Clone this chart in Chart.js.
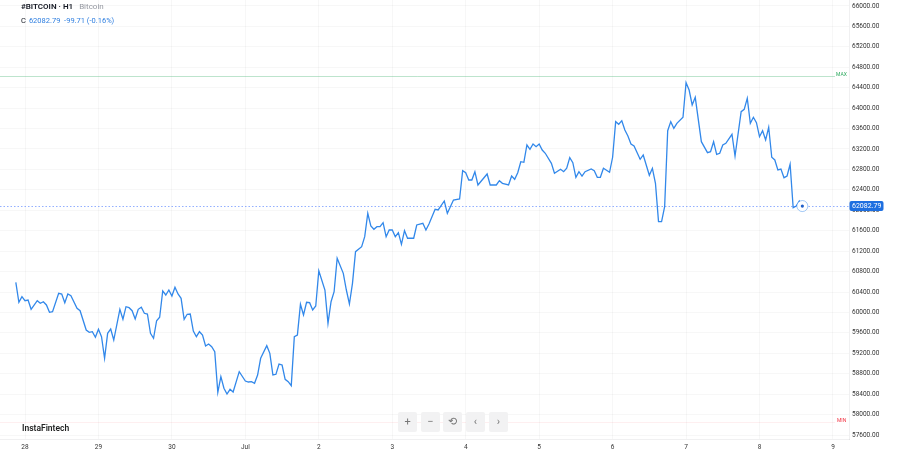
<!DOCTYPE html>
<html><head><meta charset="utf-8">
<script src="https://cdn.jsdelivr.net/npm/chart.js@4.4.1/dist/chart.umd.min.js"></script>
<style>
html,body{margin:0;padding:0;background:#fff;}
#wrap{position:relative;width:900px;height:450px;font-family:Roboto,'Noto Sans',sans-serif;overflow:hidden;}
canvas{position:absolute;left:0;top:0;}
.h1{position:absolute;left:21px;top:2px;font-size:8px;line-height:10px;color:#131722;font-weight:600;white-space:nowrap;}
.h1 span{color:#9598a1;font-weight:400;margin-left:6px;}
.h2{position:absolute;left:21px;top:16px;font-size:7.5px;line-height:10px;color:#131722;white-space:nowrap;}
.h2 span{color:#2f7fe0;margin-left:3px;}
.wm{position:absolute;left:22px;top:423px;font-size:8.5px;line-height:10px;font-weight:600;color:#222;}
.btn{position:absolute;top:412px;width:19px;height:20px;background:#f2f2f3;border-radius:2px;color:#777;font-size:11px;line-height:20px;text-align:center;}
</style></head>
<body><div id="wrap">
<canvas id="c" width="900" height="450"></canvas>
<div class="h1">#BITCOIN · H1<span>Bitcoin</span></div>
<div class="h2">C<span>62082.79 &nbsp;-99.71 (-0.16%)</span></div>
<div class="wm">InstaFintech</div>
<div class="btn" style="left:398px">+</div>
<div class="btn" style="left:421px">−</div>
<div class="btn" style="left:443px">⟲</div>
<div class="btn" style="left:466px">‹</div>
<div class="btn" style="left:489px">›</div>
</div>
<script>
// hours since 28 Jun 00:00
const hours = [-3,-2,-1,0,1,2,4,5,6,7,8,9,11,12,13,14,15,17,18,20,21,22,23,24,25,26,27,28,29,31,32,33,34,35,36,37,38,39,40,41,42,43,44,45,46,47,48,49,50,51,52,53,54,55,56,57,58,59,60,61,62,63,64,65,66,67,68,70,72,73,74,75,76,77,79,80,81,82,83,84,85,86,87,88,89,90,91,92,93,94,95,96,98,99,100,101,102,104,105,106,107,108,110,111,112,113,114,115,116,117,118,119,120,121,122,123,124,125,127,128,130,131,132,134,135,137,138,140,142,143,144,145,146,147,148,151,152,154,155,156,158,159,160,161,162,163,164,165,166,167,168,169,170,172,173,175,176,177,178,179,180,181,182,183,185,186,187,188,189,191,192,193,194,195,196,197,198,199,201,202,204,205,206,207,208,209,210,211,212,213,215,216,217,218,219,221,223,224,225,226,227,228,229,231,232,234,235,236,237,238,239,240,241,242,243,244,245,246,247,248,249,250,251,252,253,254];
const prices = [60590,60199,60308,60230,60243,60061,60230,60179,60210,60146,60003,60014,60375,60361,60191,60361,60328,60081,60034,59656,59611,59623,59513,59670,59525,59102,59591,59676,59460,60061,59866,60112,60093,60034,59871,60061,60101,59983,59969,59591,59494,59838,59905,60420,60341,60439,60322,60492,60361,60277,59866,59964,59969,59636,59525,59623,59558,59343,59382,59329,59231,58436,58742,58515,58403,58495,58442,58840,58657,58638,58644,58613,58775,59102,59349,59200,58775,58789,58990,58971,58691,58644,58565,59525,59558,60159,59950,60199,60191,60048,60126,60817,60439,59787,60210,60406,61060,60766,60439,60165,60570,61189,61287,61483,61941,61692,61628,61679,61679,61757,61483,61614,61614,61483,61561,61334,61600,61452,61452,61712,61745,61614,61732,62019,62006,62182,61941,62201,62221,62775,62736,62593,62593,62756,62495,62711,62495,62495,62579,62528,62495,62671,62607,62736,62951,62940,63278,63194,63298,63245,63298,63180,63116,62920,62724,62803,62756,62822,63030,62932,62646,62756,62671,62756,62808,62775,62646,62646,62822,62744,63038,63735,63684,63754,63572,63455,63298,63259,62998,63083,62685,62822,62528,61777,61777,62070,63558,63735,63605,63703,63821,64498,64355,64062,64212,63343,63128,63147,63343,63096,63116,63278,63312,63488,63063,63930,63977,64193,63703,63821,63715,63441,63558,63376,63625,63038,62985,62789,62808,62638,62671,62900,62051,62084,62182,62082.79];
const dayHours = [0,24,48,72,96,120,144,168,192,216,240,264];
const dayLabels = ['28','29','30','Jul','2','3','4','5','6','7','8','9'];
const priceTicks = [57600,58000,58400,58800,59200,59600,60000,60400,60800,61200,61600,62000,62400,62800,63200,63600,64000,64400,64800,65200,65600,66000];
const lastPrice = 62082.79;
const maxLevel = 64629;
const minLevel = 57855;

const pts = hours.map((h,i)=>({x:h,y:prices[i]}));

const overlay = {
  id:'overlay',
  afterDatasetsDraw(chart){
    const {ctx, chartArea:a, scales:{x,y}} = chart;
    ctx.save();
    // MAX
    let ym = Math.round(y.getPixelForValue(maxLevel))+0.5;
    ctx.strokeStyle='rgba(38,166,91,0.3)'; ctx.lineWidth=1; ctx.setLineDash([]);
    ctx.beginPath(); ctx.moveTo(a.left,ym); ctx.lineTo(835,ym); ctx.stroke();
    ctx.font='5px Roboto, sans-serif'; ctx.fillStyle='#2eaa5f'; ctx.textBaseline='bottom'; ctx.textAlign='left';
    ctx.fillText('MAX',836,ym+1);
    // MIN
    let yn = Math.round(y.getPixelForValue(minLevel))+0.5;
    ctx.strokeStyle='rgba(242,54,69,0.08)';
    ctx.beginPath(); ctx.moveTo(a.left,yn); ctx.lineTo(835,yn); ctx.stroke();
    ctx.fillStyle='#f23645'; ctx.textBaseline='bottom';
    ctx.fillText('MIN',837,yn+1);
    // current price line
    let yp = Math.round(y.getPixelForValue(lastPrice))+0.5;
    ctx.strokeStyle='rgba(41,98,255,0.5)'; ctx.setLineDash([1.5,2]);
    ctx.beginPath(); ctx.moveTo(a.left,yp); ctx.lineTo(a.right,yp); ctx.stroke();
    ctx.setLineDash([]);
    // end marker
    const meta = chart.getDatasetMeta(0);
    const p = meta.data[meta.data.length-1];
    ctx.beginPath(); ctx.arc(p.x,p.y,5.5,0,Math.PI*2);
    ctx.fillStyle='#fff'; ctx.fill();
    ctx.strokeStyle='rgba(47,134,235,0.45)'; ctx.lineWidth=1; ctx.stroke();
    ctx.beginPath(); ctx.arc(p.x,p.y,1.6,0,Math.PI*2); ctx.fillStyle='#1f5fc9'; ctx.fill();
    ctx.restore();
  },
  afterDraw(chart){
    const {ctx, chartArea:a, scales:{y}} = chart;
    ctx.save();
    let yp = y.getPixelForValue(lastPrice);
    ctx.fillStyle='#1e6fe0';
    const bx=a.right+0.5, by=yp-5, bw=34, bh=10;
    ctx.beginPath();
    if (ctx.roundRect) ctx.roundRect(bx,by,bw,bh,2); else ctx.rect(bx,by,bw,bh);
    ctx.fill();
    ctx.fillStyle='#fff'; ctx.font='7px Roboto, sans-serif'; ctx.textAlign='left'; ctx.textBaseline='middle';
    ctx.fillText(lastPrice.toFixed(2), a.right+3, yp+0.5);
    ctx.restore();
  }
};

new Chart(document.getElementById('c'), {
  type:'line',
  data:{datasets:[{data:pts,borderColor:'#3288ea',borderWidth:1.3,pointRadius:0,tension:0,fill:false}]},
  options:{
    responsive:false, animation:false, devicePixelRatio:1,
    layout:{padding:0},
    plugins:{legend:{display:false},tooltip:{enabled:false}},
    scales:{
      x:{type:'linear',min:-8.17,max:269.24,
        afterFit(s){s.height=11;s.paddingLeft=0;s.paddingRight=0;},
        afterBuildTicks(s){s.ticks=dayHours.map(v=>({value:v}));},
        grid:{color:'rgba(42,46,57,0.04)',drawTicks:false},
        border:{display:true,color:'rgba(42,46,57,0.07)'},
        ticks:{padding:4.5,maxRotation:0,autoSkip:false,color:'#333',font:{size:6.5,family:'Roboto'},
          callback(v){const i=dayHours.indexOf(v);return i>=0?dayLabels[i]:'';}}
      },
      y:{position:'right',min:57522,max:66117,
        afterFit(s){s.width=51;s.paddingTop=0;s.paddingBottom=0;},
        afterBuildTicks(s){s.ticks=priceTicks.map(v=>({value:v}));},
        grid:{color:'rgba(42,46,57,0.04)',drawTicks:false},
        border:{display:true,color:'rgba(42,46,57,0.07)'},
        ticks:{padding:3,color:'#333',font:{size:6.5,family:'Roboto'},
          callback(v){return Number(v).toFixed(2);}}
      }
    }
  },
  plugins:[overlay]
});
</script>
</body></html>
